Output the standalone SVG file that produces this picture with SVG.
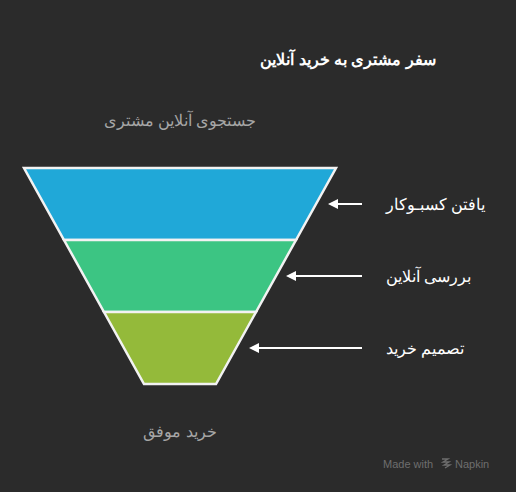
<svg xmlns="http://www.w3.org/2000/svg" width="516" height="492" viewBox="0 0 516 492">
<style>
.bg{fill:#2b2b2b}
.seg{stroke:#f2f2f2;stroke-width:2.5;stroke-linejoin:miter}
.lbl{font-family:"Liberation Sans",sans-serif;font-size:16px;fill:#ffffff}
.grey{font-family:"Liberation Sans",sans-serif;font-size:16px;fill:#a6a6a6}
.title{font-family:"Liberation Sans",sans-serif;font-size:16px;font-weight:bold;fill:#ffffff}
.conn{stroke:#ffffff;stroke-width:2;fill:none}
.wm{font-family:"Liberation Sans",sans-serif;font-size:11px;fill:#6e6e6e}
</style>
<defs>
<marker id="ah" viewBox="0 0 10 10" refX="2" refY="5" markerWidth="5" markerHeight="5" orient="auto-start-reverse" markerUnits="strokeWidth">
<path d="M0,0 L10,5 L0,10 Z" fill="#ffffff"/>
</marker>
</defs>
<rect class="bg" x="0" y="0" width="516" height="492"/>
<text class="title" x="348" y="65" text-anchor="middle">سفر مشتری به خرید آنلاین</text>
<text class="grey" x="180" y="126" text-anchor="middle">جستجوی آنلاین مشتری</text>
<g id="stage1">
<polygon class="seg" fill="#20a8d8" points="24,168 336,168 296,240 64,240"/>
<text class="lbl" x="386" y="210">یافتن کسبـوکار</text>
</g>
<g id="stage2">
<polygon class="seg" fill="#3cc583" points="64,240 296,240 256,312 104,312"/>
<text class="lbl" x="386" y="282">بررسی آنلاین</text>
</g>
<g id="stage3">
<polygon class="seg" fill="#94ba3a" points="104,312 256,312 216,384 144,384"/>
<text class="lbl" x="386" y="354">تصمیم خرید</text>
</g>
<text class="grey" x="180" y="437" text-anchor="middle">خرید موفق</text>
<g id="connectors">
<line class="conn" x1="362" y1="204" x2="336" y2="204" marker-end="url(#ah)"/>
<line class="conn" x1="362" y1="276" x2="294" y2="276" marker-end="url(#ah)"/>
<line class="conn" x1="362" y1="348" x2="257" y2="348" marker-end="url(#ah)"/>
</g>
<g id="watermark">
<text class="wm" x="383" y="468">Made with</text>
<path d="M442,459 l6,0 l-5,3 l6,0 l-5,3 l6,0 l-5,3" stroke="#6e6e6e" stroke-width="1.3" fill="none"/>
<text class="wm" x="455" y="468">Napkin</text>
</g>
</svg>
